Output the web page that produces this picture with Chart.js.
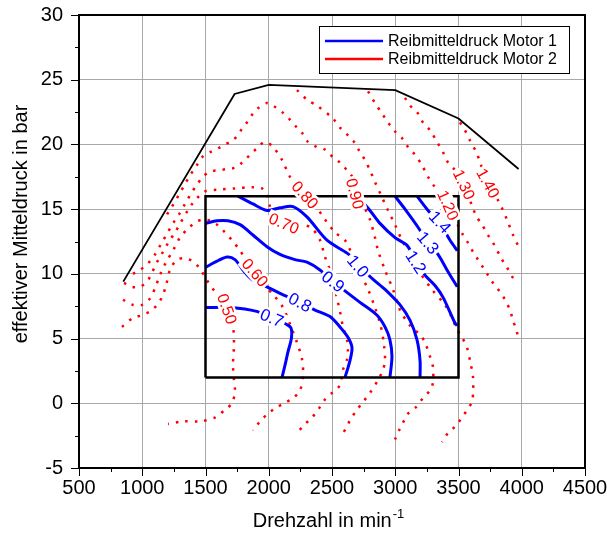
<!DOCTYPE html>
<html>
<head>
<meta charset="utf-8">
<script src="https://cdn.jsdelivr.net/npm/chart.js@4/dist/chart.umd.min.js"></script>
<style>
  html, body { margin:0; padding:0; background:#fff; }
  #wrap { width:607px; height:533px; }
</style>
</head>
<body>
<div id="wrap"><canvas id="chart" width="607" height="533"></canvas></div>
<script>
// x = Drehzahl (min-1), y = effektiver Mitteldruck (bar)
var xTicks = [500, 1000, 1500, 2000, 2500, 3000, 3500, 4000, 4500];
var yTicks = [-5, 0, 5, 10, 15, 20, 25, 30];

var legendNames = ['Reibmitteldruck Motor 1', 'Reibmitteldruck Motor 2'];

// Volllastlinie und Kennfeldbereich Motor 1
var fullLoad = [[850,9.4],[1730,23.9],[2000,24.6],[3000,24.2],[3500,22.0],[3975,18.1]];
var mapBox = [[1500,2],[3500,2],[3500,16],[1500,16],[1500,2]];

// Motor 1 (blau)
var m1_07 = [[1500,7.4],[1700,7.4],[1905,7.1],[2025,6.6],[2170,5.9],[2180,5.1],[2150,3.9],[2130,3.0],[2105,2.0]];
var m1_08 = [[1500,10.5],[1575,10.9],[1670,11.3],[1733,11.1],[1796,10.3],[1875,9.5],[1986,9.0],[2089,8.5],[2247,7.8],[2366,7.2],[2484,6.7],[2563,5.9],[2626,5.1],[2658,4.3],[2642,3.3],[2603,2.0]];
var m1_09 = [[1500,13.9],[1591,14.1],[1678,14.1],[1773,13.8],[1875,13.0],[1986,12.1],[2089,11.5],[2207,11.1],[2302,10.9],[2405,10.3],[2508,9.4],[2587,8.8],[2721,7.8],[2856,6.8],[2919,5.9],[2958,4.9],[2974,3.6],[2958,2.0]];
var m1_10 = [[1757,16.0],[1875,15.4],[1986,14.9],[2089,15.1],[2192,15.2],[2302,14.4],[2460,12.6],[2619,11.6],[2706,10.9],[2800,9.8],[2919,8.8],[3038,7.6],[3117,6.4],[3172,4.9],[3196,3.3],[3196,2.0]];
var m1_12 = [[2698,16.0],[2800,14.9],[2879,13.9],[2998,12.8],[3093,12.2],[3156,11.1],[3235,9.9],[3314,9.1],[3377,8.2],[3472,6.2],[3490,6.0]];
var m1_13 = [[2998,16.0],[3077,15.0],[3180,13.6],[3259,12.4],[3338,11.5],[3409,10.3],[3490,9.0]];
var m1_14 = [[3172,16.0],[3259,14.9],[3354,13.9],[3433,12.6],[3490,11.8]];

// Motor 2 (rot, gepunktet)
var m2_050 = [[840,5.9],[927,6.6],[998,6.8],[1061,7.1],[1117,7.6],[1156,8.2],[1188,9.1],[1219,10.3],[1275,11.1],[1338,11.2],[1393,11.0],[1449,10.5],[1512,9.5],[1575,8.6],[1662,7.4],[1717,5.9],[1725,4.5],[1717,3.0],[1725,1.8],[1733,0.9],[1709,0.0],[1654,-0.5],[1575,-1.1],[1456,-1.4],[1322,-1.4],[1204,-1.6]];
var m2_060 = [[848,8.0],[927,7.6],[998,7.6],[1061,8.1],[1101,8.9],[1140,9.9],[1188,10.9],[1243,11.8],[1298,12.8],[1362,13.5],[1425,14.0],[1480,14.2],[1536,14.1],[1591,13.8],[1654,13.2],[1709,12.6],[1773,11.8],[1828,10.9],[1875,10.1],[1955,9.2],[2034,8.4],[2113,7.4],[2168,6.1],[2223,4.7],[2263,3.4],[2271,2.2],[2247,1.0],[2192,0.4],[2121,0.0],[2065,-0.3],[1994,-0.8],[1931,-1.4],[1875,-2.1]];
var m2_070 = [[856,9.3],[919,9.0],[982,9.0],[1038,9.4],[1077,10.1],[1117,10.9],[1164,11.7],[1211,12.5],[1259,13.2],[1306,14.0],[1354,14.8],[1401,15.5],[1449,16.0],[1504,16.4],[1599,16.5],[1733,16.6],[1868,16.7],[1947,16.6],[1986,16.1],[2010,15.2],[2057,14.3],[2128,14.0],[2247,13.9],[2342,13.5],[2405,12.6],[2445,11.3],[2500,9.8],[2540,8.1],[2563,7.1],[2587,5.9],[2619,4.9],[2626,4.1],[2619,3.4],[2587,2.6],[2563,1.4],[2500,0.8],[2437,0.2],[2397,-0.4],[2342,-1.1],[2287,-1.6],[2223,-2.3]];
var m2_080 = [[927,10.0],[982,10.3],[1045,10.8],[1101,11.5],[1148,12.3],[1196,13.1],[1243,13.9],[1291,14.6],[1338,15.4],[1385,16.2],[1433,16.9],[1480,17.5],[1536,17.9],[1599,18.0],[1670,18.1],[1733,18.2],[1789,18.6],[1852,19.2],[1907,19.7],[1970,20.2],[2034,19.8],[2105,18.8],[2168,17.5],[2231,16.8],[2287,16.2],[2366,15.3],[2445,14.2],[2524,13.2],[2603,12.6],[2658,11.5],[2721,10.1],[2785,8.8],[2840,7.4],[2887,5.9],[2911,4.5],[2919,3.3],[2903,2.6],[2864,1.8],[2800,0.8],[2745,0.1],[2698,-0.5],[2642,-1.3],[2619,-1.8],[2587,-2.3]];
var m2_090 = [[1196,14.6],[1235,15.2],[1283,16.0],[1330,16.8],[1377,17.6],[1425,18.3],[1472,19.0],[1536,19.4],[1599,19.7],[1654,20.0],[1717,20.3],[1773,21.0],[1828,21.7],[1868,22.3],[1915,22.8],[1986,23.2],[2034,23.0],[2105,22.5],[2160,22.0],[2223,21.3],[2263,20.9],[2310,20.2],[2381,19.8],[2445,19.6],[2508,19.0],[2563,18.6],[2619,18.0],[2666,17.4],[2698,16.2],[2753,15.2],[2800,14.2],[2840,12.8],[2864,11.8],[2919,10.3],[2982,8.8],[3038,7.2],[3117,6.0],[3196,5.3],[3235,4.7],[3275,3.6],[3298,2.8],[3298,1.6],[3275,1.0],[3219,0.4],[3164,-0.3],[3101,-0.8],[3061,-1.5],[3030,-2.1],[2998,-2.8]];
var m2_100 = [[2223,24.2],[2310,23.4],[2381,23.0],[2508,22.0],[2563,21.3],[2626,20.7],[2682,20.1],[2721,19.4],[2761,18.8],[2800,18.0],[2840,17.1],[2887,16.1],[2943,14.9],[2998,13.8],[3053,12.6],[3117,11.5],[3196,10.1],[3290,8.8],[3393,7.6],[3449,6.6],[3488,5.7],[3528,5.1],[3567,4.3],[3591,3.3],[3615,2.0],[3615,0.8],[3607,0.1],[3575,-0.4],[3528,-1.1],[3472,-1.8],[3417,-2.3],[3369,-3.0]];
var m2_120 = [[2785,24.1],[2840,23.2],[2895,22.4],[2943,21.7],[2998,21.0],[3053,20.5],[3101,19.8],[3156,19.2],[3211,18.4],[3259,17.5],[3314,16.7],[3369,16.2],[3409,15.3],[3472,14.2],[3536,13.0],[3575,12.4],[3615,11.7],[3654,11.1],[3694,10.5],[3733,9.9],[3773,9.3],[3828,8.6],[3868,8.0],[3907,7.2],[3931,6.4],[3962,5.5],[3970,5.0]];
var m2_130 = [[3077,23.6],[3117,23.0],[3172,22.5],[3219,21.7],[3275,21.1],[3330,20.2],[3377,19.4],[3417,18.6],[3472,18.0],[3536,16.7],[3607,15.3],[3638,14.5],[3686,13.8],[3733,13.0],[3773,12.4],[3844,11.1],[3883,10.5],[3923,9.8],[3970,9.3]];
var m2_140 = [[3512,21.7],[3551,21.1],[3591,20.3],[3646,19.3],[3670,18.6],[3702,17.8],[3733,17.0],[3773,16.3],[3812,15.7],[3852,14.9],[3891,14.0],[3931,13.0],[3970,12.2]];

var motor1Lines = {m1_07:m1_07, m1_08:m1_08, m1_09:m1_09, m1_10:m1_10, m1_12:m1_12, m1_13:m1_13, m1_14:m1_14};
var motor2Lines = {m2_050:m2_050, m2_060:m2_060, m2_070:m2_070, m2_080:m2_080, m2_090:m2_090, m2_100:m2_100, m2_120:m2_120, m2_130:m2_130, m2_140:m2_140};

// Beschriftung der Isolinien: [Linie, Text, Drehzahl, Mitteldruck]
var motor1Labels = [['m1_07','0.7',2025,6.6],['m1_08','0.8',2247,7.8],['m1_09','0.9',2508,9.4],['m1_10','1.0',2706,10.6],
                    ['m1_12','1.2',3164,10.9],['m1_13','1.3',3259,12.4],['m1_14','1.4',3354,14.0]];
var motor2Labels = [['m2_050','0.50',1670,7.3],['m2_060','0.60',1891,10.1],['m2_070','0.70',2121,13.9],['m2_080','0.80',2287,16.1],
                    ['m2_090','0.90',2682,16.2],['m2_120','1.20',3417,15.3],['m2_130','1.30',3544,16.9],['m2_140','1.40',3733,17.0]];

var FONT = 'Liberation Sans, Arial, sans-serif';
var BLUE = '#0000ff';
var RED = '#ff0000';

function toXY(pts){ return pts.map(function(p){ return {x:p[0], y:p[1]}; }); }

var datasets = [];
datasets.push({label:'Volllast', data:toXY(fullLoad), borderColor:'#000', borderWidth:1.8, tension:0, order:1});
datasets.push({label:'Bereich', data:toXY(mapBox), borderColor:'#000', borderWidth:2.5, tension:0, order:1});
Object.keys(motor1Lines).forEach(function(k){
  datasets.push({label:k, data:toXY(motor1Lines[k]), borderColor:BLUE, borderWidth:3, tension:0.3, order:2});
});
Object.keys(motor2Lines).forEach(function(k){
  datasets.push({label:k, data:toXY(motor2Lines[k]), borderColor:RED, borderWidth:2.5, borderDash:[2.5,7],
                 borderCapStyle:'butt', tension:0.3, order:3});
});
datasets.forEach(function(d){ d.showLine = true; d.pointRadius = 0; d.fill = false; });

function drawLabels(chart, list, lines, color, size){
  var xs = chart.scales.x, ys = chart.scales.y, ctx = chart.ctx;
  list.forEach(function(l){
    var pts = lines[l[0]];
    var px = xs.getPixelForValue(l[2]), py = ys.getPixelForValue(l[3]);
    var best = Infinity, ang = 0;
    for (var i = 0; i < pts.length - 1; i++){
      var ax = xs.getPixelForValue(pts[i][0]), ay = ys.getPixelForValue(pts[i][1]);
      var bx = xs.getPixelForValue(pts[i+1][0]), by = ys.getPixelForValue(pts[i+1][1]);
      var d = Math.pow((ax+bx)/2 - px, 2) + Math.pow((ay+by)/2 - py, 2);
      if (d < best){ best = d; ang = Math.atan2(by - ay, bx - ax); }
    }
    if (ang > Math.PI/2) ang -= Math.PI;
    if (ang < -Math.PI/2) ang += Math.PI;
    ctx.save();
    ctx.translate(px, py);
    ctx.rotate(ang);
    ctx.font = size + 'px ' + FONT;
    var w = ctx.measureText(l[1]).width;
    ctx.fillStyle = '#fff';
    ctx.fillRect(-w/2 - 2, -size/2, w + 4, size);
    ctx.fillStyle = color;
    ctx.textAlign = 'center';
    ctx.textBaseline = 'middle';
    ctx.fillText(l[1], 0, 1);
    ctx.restore();
  });
}

var decorPlugin = {
  id:'decor',
  afterDatasetsDraw: function(chart){
    drawLabels(chart, motor2Labels, motor2Lines, RED, 16);
    drawLabels(chart, motor1Labels, motor1Lines, BLUE, 17);
  },
  afterDraw: function(chart){
    var ctx = chart.ctx, a = chart.chartArea, xs = chart.scales.x, ys = chart.scales.y;
    ctx.save();
    // Rahmen
    ctx.strokeStyle = '#000';
    ctx.lineWidth = 2;
    ctx.strokeRect(a.left, a.top, a.right - a.left, a.bottom - a.top);
    // Teilstriche
    ctx.lineWidth = 1;
    ctx.beginPath();
    for (var v = 500; v <= 4500; v += 250){
      var x = Math.round(xs.getPixelForValue(v)) + 0.5;
      ctx.moveTo(x, a.bottom);
      ctx.lineTo(x, a.bottom + (v % 500 === 0 ? 8 : 4));
    }
    for (var w = -5; w <= 30; w += 2.5){
      var y = Math.round(ys.getPixelForValue(w)) + 0.5;
      ctx.moveTo(a.left, y);
      ctx.lineTo(a.left - (w % 5 === 0 ? 8 : 4), y);
    }
    ctx.stroke();

    // Legende
    var lx = 319, ly = 26, lw = 250, lh = 47;
    ctx.fillStyle = '#fff';
    ctx.fillRect(lx, ly, lw, lh);
    ctx.strokeStyle = '#000';
    ctx.lineWidth = 1;
    ctx.strokeRect(lx + 0.5, ly + 0.5, lw, lh);
    [[BLUE, 41], [RED, 59]].forEach(function(item, i){
      ctx.strokeStyle = item[0];
      ctx.lineWidth = 2.5;
      ctx.beginPath();
      ctx.moveTo(325, item[1]);
      ctx.lineTo(383, item[1]);
      ctx.stroke();
      ctx.fillStyle = '#000';
      ctx.font = '16px ' + FONT;
      ctx.textAlign = 'left';
      ctx.textBaseline = 'middle';
      ctx.fillText(legendNames[i], 388, item[1] + 1);
    });

    // Achsentitel
    ctx.fillStyle = '#000';
    ctx.font = '20px ' + FONT;
    var main = 'Drehzahl in min', sup = '-1';
    var mw = ctx.measureText(main).width;
    ctx.font = '13px ' + FONT;
    var sw = ctx.measureText(sup).width;
    var sx = 328 - (mw + sw) / 2;
    ctx.textAlign = 'left';
    ctx.textBaseline = 'alphabetic';
    ctx.font = '20px ' + FONT;
    ctx.fillText(main, sx, 527);
    ctx.font = '13px ' + FONT;
    ctx.fillText(sup, sx + mw + 1, 518);

    ctx.translate(21, 224);
    ctx.rotate(-Math.PI / 2);
    ctx.font = '20px ' + FONT;
    ctx.textAlign = 'center';
    ctx.textBaseline = 'middle';
    ctx.fillText('effektiver Mitteldruck in bar', 0, 0);
    ctx.restore();
  }
};

new Chart(document.getElementById('chart').getContext('2d'), {
  type:'scatter',
  data:{datasets:datasets},
  options:{
    responsive:false,
    animation:false,
    devicePixelRatio:1,
    layout:{padding:{left:0, right:22, top:15, bottom:0}},
    plugins:{legend:{display:false}, tooltip:{enabled:false}},
    scales:{
      x:{type:'linear', min:xTicks[0], max:xTicks[xTicks.length-1],
         afterBuildTicks:function(s){ s.ticks = xTicks.map(function(v){ return {value:v}; }); },
         ticks:{color:'#000', font:{size:20, family:FONT}, padding:8, maxRotation:0, autoSkip:false,
                callback:function(v){ return String(v); }},
         grid:{color:'#a8a8a8', lineWidth:1, drawTicks:false},
         border:{display:false},
         afterFit:function(s){ s.height = 65; s.paddingLeft = 0; s.paddingRight = 0; }},
      y:{type:'linear', min:yTicks[0], max:yTicks[yTicks.length-1],
         afterBuildTicks:function(s){ s.ticks = yTicks.map(function(v){ return {value:v}; }); },
         ticks:{color:'#000', font:{size:20, family:FONT}, padding:16, autoSkip:false,
                callback:function(v){ return String(v); }},
         grid:{color:'#a8a8a8', lineWidth:1, drawTicks:false},
         border:{display:false},
         afterFit:function(s){ s.width = 79; s.paddingTop = 0; s.paddingBottom = 0; }}
    }
  },
  plugins:[decorPlugin]
});
</script>
</body>
</html>
